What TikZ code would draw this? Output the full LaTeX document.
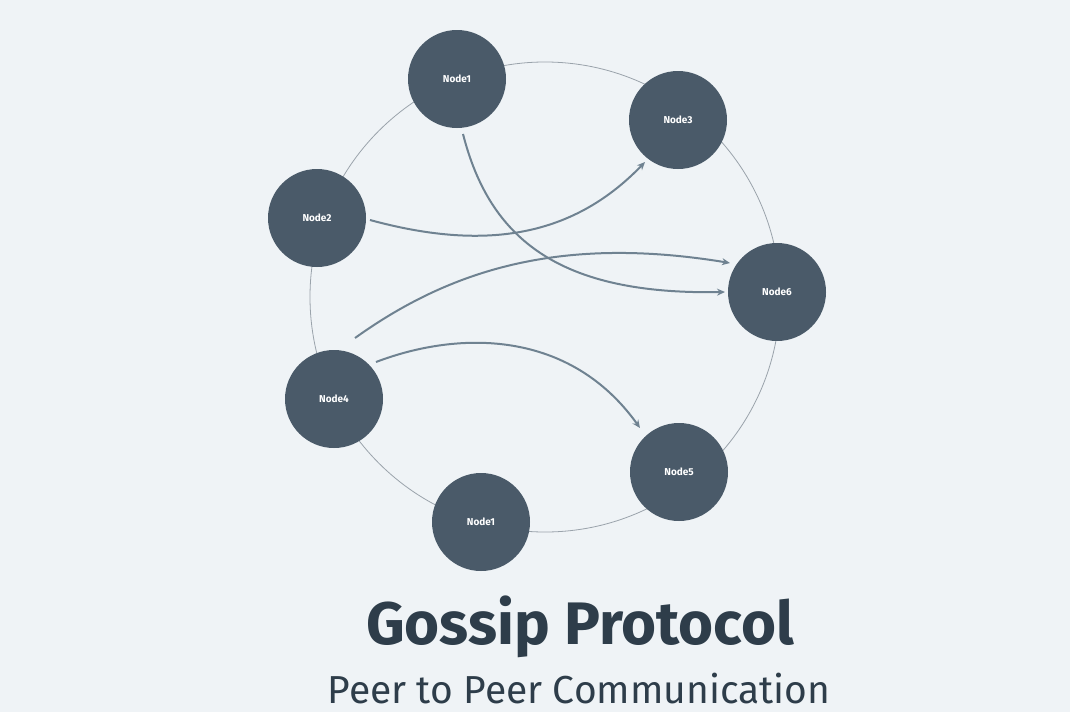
\documentclass[tikz,border=0pt]{standalone}
\usepackage{fontspec}
\setmainfont{Fira Sans}
\usetikzlibrary{arrows.meta}
\definecolor{bg}{HTML}{EFF3F6}
\definecolor{nd}{HTML}{4A5A69}
\definecolor{ttl}{HTML}{2E3D4A}
\definecolor{ring}{HTML}{9AA3AB}
\definecolor{arr}{HTML}{6F8291}
\tikzset{peer/.style={circle,fill=nd,minimum size=98pt,inner sep=0pt,text=white,font=\fontsize{10}{12}\selectfont\bfseries},
gossip/.style={draw=arr,line width=2pt,-{Stealth[length=8pt,width=7pt]}}}
\begin{document}
\begin{tikzpicture}[x=1pt,y=-1pt]
\fill[bg] (0,0) rectangle (1070,712);
\useasboundingbox (0,0) rectangle (1070,712);
\draw[ring,line width=0.8pt] (545,297) circle[radius=235];
\node[peer] (n1) at (457,79) {Node1};
\node[peer] (n3) at (678,120) {Node3};
\node[peer] (n2) at (317,218) {Node2};
\node[peer] (n6) at (777,292) {Node6};
\node[peer] (n4) at (334,399) {Node4};
\node[peer] (n5) at (679,472) {Node5};
\node[peer] (n7) at (481,522) {Node1};
\coordinate (a1) at (370,220);
\coordinate (a2) at (463,134);
\coordinate (a3) at (355,338);
\coordinate (a4) at (376,362);
\draw[gossip] (a1) .. controls (480,250) and (570,240) .. (645,162);
\draw[gossip] (a2) .. controls (490,240) and (560,295) .. (725,292);
\draw[gossip] (a3) .. controls (450,270) and (560,235) .. (730,263);
\draw[gossip] (a4) .. controls (460,330) and (570,330) .. (640,428);
\node[text=ttl,font=\fontsize{60}{64}\selectfont\bfseries] (t) at (580,627) {Gossip Protocol};
\node[text=ttl,font=\fontsize{39}{42}\selectfont] (s) at (579,689) {Peer to Peer Communication};
\end{tikzpicture}
\end{document}
